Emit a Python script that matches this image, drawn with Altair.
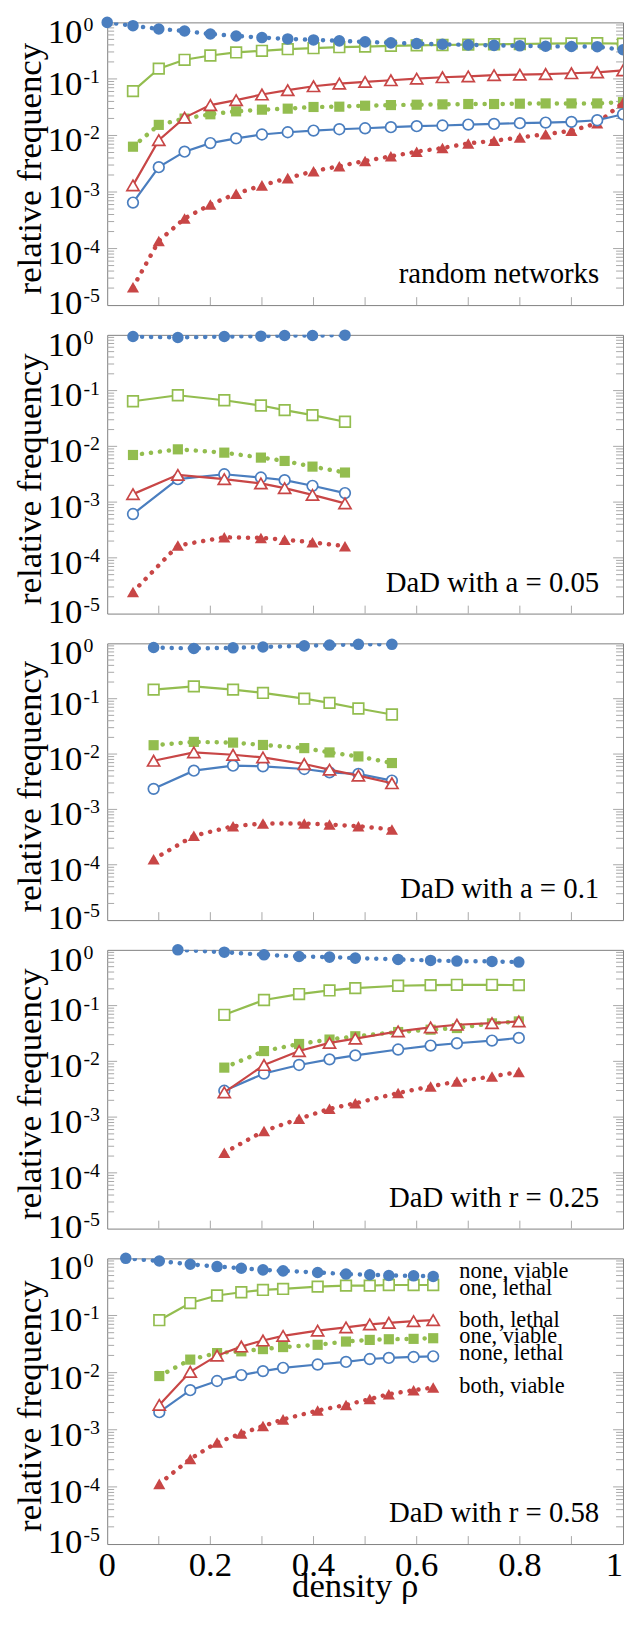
import altair as alt
import pandas as pd

# ------------------------------------------------------------------ data
SERIES_NAMES = ["none, viable", "one, lethal", "both, lethal",
                "one, viable", "none, lethal", "both, viable"]

# panel 1: random networks
P1_RHO_NV = [0.00, 0.05, 0.10, 0.15, 0.20, 0.25, 0.30, 0.35, 0.40, 0.45, 0.50,
             0.55, 0.60, 0.65, 0.70, 0.75, 0.80, 0.85, 0.90, 0.95, 1.00]
P1_RHO = [0.05, 0.10, 0.15, 0.20, 0.25, 0.30, 0.35, 0.40, 0.45, 0.50,
          0.55, 0.60, 0.65, 0.70, 0.75, 0.80, 0.85, 0.90, 0.95, 1.00]
P1_NONE_VIABLE = [1.0, 0.875, 0.764, 0.705, 0.624, 0.575, 0.538, 0.510, 0.490, 0.471, 0.452,
                  0.434, 0.422, 0.411, 0.400, 0.392, 0.385, 0.378, 0.375, 0.372, 0.328]
P1_ONE_LETHAL = [0.0608, 0.152, 0.218, 0.260, 0.294, 0.314, 0.336, 0.350, 0.364, 0.374,
                 0.384, 0.392, 0.398, 0.404, 0.410, 0.415, 0.420, 0.425, 0.428, 0.420]
P1_BOTH_LETHAL = [0.00131, 0.00828, 0.0207, 0.0345, 0.0422, 0.0531, 0.0632, 0.0743, 0.0828, 0.0886,
                  0.0948, 0.101, 0.107, 0.111, 0.117, 0.119, 0.122, 0.126, 0.131, 0.142]
P1_ONE_VIABLE = [0.00633, 0.0154, 0.0199, 0.0237, 0.0267, 0.0286, 0.0298, 0.0319, 0.0323, 0.0336,
                 0.0345, 0.0350, 0.0355, 0.0360, 0.0360, 0.0365, 0.0369, 0.0369, 0.0369, 0.0390]
P1_NONE_LETHAL = [0.00065, 0.00275, 0.00517, 0.00733, 0.00886, 0.0104, 0.0114, 0.0122, 0.0129, 0.0134,
                  0.0140, 0.0146, 0.0150, 0.0156, 0.0160, 0.0165, 0.0169, 0.0174, 0.0186, 0.0237]
P1_BOTH_VIABLE = [2.07e-5, 1.36e-4, 3.41e-4, 6.0e-4, 9.35e-4, 1.31e-3, 1.76e-3, 2.34e-3, 2.86e-3, 3.55e-3,
                  4.28e-3, 5.17e-3, 6.0e-3, 7.24e-3, 8.06e-3, 9.22e-3, 0.01055, 0.0121, 0.0165, 0.0379]

# panel 2: DaD with a = 0.05
P2_RHO = [0.050, 0.137, 0.227, 0.298, 0.344, 0.398, 0.461]
P2_NONE_VIABLE = [0.934, 0.896, 0.934, 0.947, 0.973, 0.973, 0.986]
P2_ONE_LETHAL = [0.0645, 0.0825, 0.0672, 0.0540, 0.0446, 0.0363, 0.0276]
P2_BOTH_LETHAL = [0.00139, 0.00308, 0.00258, 0.00216, 0.00178, 0.00135, 0.000947]
P2_ONE_VIABLE = [0.0070, 0.00884, 0.00771, 0.00628, 0.00547, 0.00433, 0.00339]
P2_NONE_LETHAL = [0.000611, 0.00258, 0.00316, 0.00276, 0.00247, 0.00196, 0.00145]
P2_BOTH_VIABLE = [2.44e-5, 1.66e-4, 2.34e-4, 2.28e-4, 2.12e-4, 1.90e-4, 1.62e-4]

# panel 3: DaD with a = 0.1
P3_RHO = [0.090, 0.168, 0.244, 0.302, 0.382, 0.431, 0.487, 0.552]
P3_NONE_VIABLE = [0.84, 0.81, 0.83, 0.86, 0.90, 0.93, 0.96, 0.96]
P3_ONE_LETHAL = [0.146, 0.167, 0.146, 0.127, 0.100, 0.084, 0.0666, 0.0519]
P3_BOTH_LETHAL = [0.00757, 0.0107, 0.0097, 0.0087, 0.0066, 0.00523, 0.00408, 0.00297]
P3_ONE_VIABLE = [0.01445, 0.0166, 0.0161, 0.0146, 0.0128, 0.0107, 0.00906, 0.00688]
P3_NONE_LETHAL = [0.00235, 0.00501, 0.00616, 0.0060, 0.00537, 0.00468, 0.00437, 0.00332]
P3_BOTH_VIABLE = [1.26e-4, 3.34e-4, 4.97e-4, 5.55e-4, 5.55e-4, 5.32e-4, 4.97e-4, 4.34e-4]

# panel 4: DaD with r = 0.25
P4_RHO_NV = [0.137, 0.227, 0.304, 0.372, 0.431, 0.481, 0.564, 0.627, 0.678, 0.746, 0.798]
P4_RHO = [0.227, 0.304, 0.372, 0.431, 0.481, 0.564, 0.627, 0.678, 0.746, 0.798]
P4_NONE_VIABLE = [1.0, 0.909, 0.815, 0.761, 0.741, 0.711, 0.673, 0.647, 0.629, 0.621, 0.604]
P4_ONE_LETHAL = [0.0683, 0.126, 0.161, 0.187, 0.206, 0.227, 0.233, 0.236, 0.236, 0.233]
P4_BOTH_LETHAL = [0.00278, 0.00861, 0.0153, 0.0214, 0.0256, 0.0345, 0.0406, 0.0454, 0.0486, 0.0520]
P4_ONE_VIABLE = [0.00772, 0.0153, 0.0205, 0.0246, 0.0282, 0.0336, 0.0370, 0.0396, 0.0480, 0.0520]
P4_NONE_LETHAL = [0.00297, 0.00604, 0.00861, 0.01086, 0.0128, 0.0163, 0.0192, 0.0211, 0.0236, 0.0263]
P4_BOTH_VIABLE = [2.30e-4, 5.64e-4, 9.34e-4, 1.41e-3, 1.77e-3, 2.70e-3, 3.55e-3, 4.35e-3, 5.34e-3, 6.47e-3]

# panel 5: DaD with r = 0.58
P5_RHO_NV = [0.036, 0.101, 0.161, 0.213, 0.260, 0.302, 0.341, 0.408, 0.463, 0.509, 0.546, 0.594, 0.632]
P5_RHO = [0.101, 0.161, 0.213, 0.260, 0.302, 0.341, 0.408, 0.463, 0.509, 0.546, 0.594, 0.632]
P5_NONE_VIABLE = [1.0, 0.899, 0.788, 0.718, 0.672, 0.629, 0.604, 0.566, 0.530, 0.516, 0.502, 0.495, 0.483]
P5_ONE_LETHAL = [0.0828, 0.165, 0.224, 0.255, 0.280, 0.292, 0.320, 0.333, 0.333, 0.342, 0.342, 0.342]
P5_BOTH_LETHAL = [0.00272, 0.01035, 0.0198, 0.0287, 0.0365, 0.0439, 0.0542, 0.0619, 0.0697, 0.0745, 0.0796, 0.0828]
P5_ONE_VIABLE = [0.00871, 0.0169, 0.0220, 0.0236, 0.0258, 0.0280, 0.0307, 0.0350, 0.0374, 0.0384, 0.0390, 0.0400]
P5_NONE_LETHAL = [0.00203, 0.00493, 0.00714, 0.00906, 0.01063, 0.01214, 0.01386, 0.0154, 0.0173, 0.0181, 0.0188, 0.0193]
P5_BOTH_VIABLE = [1.13e-4, 3.09e-4, 6.0e-4, 8.57e-4, 1.16e-3, 1.52e-3, 2.17e-3, 2.72e-3, 3.44e-3, 4.20e-3, 4.93e-3, 5.48e-3]

PANEL_LABELS = ["random networks", "DaD with a = 0.05", "DaD with a = 0.1",
                "DaD with r = 0.25", "DaD with r = 0.58"]

Y_TICK_VALUES = [1, 0.1, 0.01, 0.001, 0.0001, 0.00001]
Y_TICK_EXPONENTS = ["0", "-1", "-2", "-3", "-4", "-5"]
X_TICK_VALUES = [0.1, 0.2, 0.3, 0.4, 0.5, 0.6, 0.7, 0.8, 0.9]
X_LABEL_VALUES = [0, 0.2, 0.4, 0.6, 0.8, 1]
X_LABEL_TEXT = ["0", "0.2", "0.4", "0.6", "0.8", "1"]

PANELS = [
    {"none, viable": (P1_RHO_NV, P1_NONE_VIABLE), "one, lethal": (P1_RHO, P1_ONE_LETHAL),
     "both, lethal": (P1_RHO, P1_BOTH_LETHAL), "one, viable": (P1_RHO, P1_ONE_VIABLE),
     "none, lethal": (P1_RHO, P1_NONE_LETHAL), "both, viable": (P1_RHO, P1_BOTH_VIABLE)},
    {"none, viable": (P2_RHO, P2_NONE_VIABLE), "one, lethal": (P2_RHO, P2_ONE_LETHAL),
     "both, lethal": (P2_RHO, P2_BOTH_LETHAL), "one, viable": (P2_RHO, P2_ONE_VIABLE),
     "none, lethal": (P2_RHO, P2_NONE_LETHAL), "both, viable": (P2_RHO, P2_BOTH_VIABLE)},
    {"none, viable": (P3_RHO, P3_NONE_VIABLE), "one, lethal": (P3_RHO, P3_ONE_LETHAL),
     "both, lethal": (P3_RHO, P3_BOTH_LETHAL), "one, viable": (P3_RHO, P3_ONE_VIABLE),
     "none, lethal": (P3_RHO, P3_NONE_LETHAL), "both, viable": (P3_RHO, P3_BOTH_VIABLE)},
    {"none, viable": (P4_RHO_NV, P4_NONE_VIABLE), "one, lethal": (P4_RHO, P4_ONE_LETHAL),
     "both, lethal": (P4_RHO, P4_BOTH_LETHAL), "one, viable": (P4_RHO, P4_ONE_VIABLE),
     "none, lethal": (P4_RHO, P4_NONE_LETHAL), "both, viable": (P4_RHO, P4_BOTH_VIABLE)},
    {"none, viable": (P5_RHO_NV, P5_NONE_VIABLE), "one, lethal": (P5_RHO, P5_ONE_LETHAL),
     "both, lethal": (P5_RHO, P5_BOTH_LETHAL), "one, viable": (P5_RHO, P5_ONE_VIABLE),
     "none, lethal": (P5_RHO, P5_NONE_LETHAL), "both, viable": (P5_RHO, P5_BOTH_VIABLE)},
]

# ------------------------------------------------------------------ style
FONT = "Liberation Serif"
BLUE, GREEN, RED = "#4a7ebf", "#93bd4f", "#c84646"
STYLE = {
    "none, viable": dict(color=BLUE, shape="circle", filled=True, size=135),
    "one, lethal": dict(color=GREEN, shape="square", filled=False, size=115),
    "both, lethal": dict(color=RED, shape="triangle-up", filled=False, size=150),
    "one, viable": dict(color=GREEN, shape="square", filled=True, size=105),
    "none, lethal": dict(color=BLUE, shape="circle", filled=False, size=115),
    "both, viable": dict(color=RED, shape="triangle-up", filled=True, size=150),
}
DRAW_ORDER = ["one, viable", "both, viable", "none, lethal",
              "both, lethal", "one, lethal", "none, viable"]

W = 520
HEIGHTS = [285, 281, 279, 281, 288]
SPACING = 30
TICK_COLOR = "#a8a8a8"
LEGEND_BASELINES = [20, 36.7, 68.7, 85, 102.7, 136]

xs = alt.Scale(domain=[0, 1], nice=False, zero=False)
ys = alt.Scale(type="log", domain=[1e-5, 1], nice=False)

MINOR_Y = [k * 10.0 ** e for e in range(-5, 0) for k in range(2, 10)]
MAJOR_Y = Y_TICK_VALUES[1:-1]


def X(field="rho"):
    return alt.X(f"{field}:Q", scale=xs, axis=None)


def Y(field="f"):
    return alt.Y(f"{field}:Q", scale=ys, axis=None)


def panel(pdata, label, H, bottom):
    layers = []
    one = pd.DataFrame({"a": [0]})

    # inward tick marks on left / right / bottom
    for vals, ln in ((MINOR_Y, 7), (MAJOR_Y, 10)):
        td = pd.DataFrame({"t": vals})
        layers.append(alt.Chart(td).mark_rule(color=TICK_COLOR, strokeWidth=1).encode(
            y=Y("t"), x=alt.value(0), x2=alt.value(ln)))
        layers.append(alt.Chart(td).mark_rule(color=TICK_COLOR, strokeWidth=1).encode(
            y=Y("t"), x=alt.value(W), x2=alt.value(W - ln)))
    xt = pd.DataFrame({"t": X_TICK_VALUES})
    layers.append(alt.Chart(xt).mark_rule(color=TICK_COLOR, strokeWidth=1).encode(
        x=X("t"), y=alt.value(H), y2=alt.value(H - 8)))

    # series
    for s in DRAW_ORDER:
        st = STYLE[s]
        r, v = pdata[s]
        d = pd.DataFrame({"rho": r, "f": v})
        base = alt.Chart(d).encode(x=X(), y=Y())
        if st["filled"]:
            layers.append(base.mark_line(color=st["color"], strokeWidth=4.5, clip=True,
                                         strokeDash=[0.1, 9], strokeCap="round"))
            pt = dict(shape=st["shape"], filled=True, color=st["color"],
                      size=st["size"], opacity=1)
        else:
            layers.append(base.mark_line(color=st["color"], strokeWidth=2.2, clip=True))
            pt = dict(shape=st["shape"], filled=True, fill="white", stroke=st["color"],
                      strokeWidth=1.7, size=st["size"], opacity=1)
        inner = d[d["rho"] < 1]
        edge = d[d["rho"] >= 1]
        layers.append(alt.Chart(inner).mark_point(**pt).encode(x=X(), y=Y()))
        if len(edge):
            layers.append(alt.Chart(edge).mark_point(clip=True, **pt).encode(x=X(), y=Y()))

    # y tick labels  10^k
    yl = pd.DataFrame({"t": Y_TICK_VALUES, "e": Y_TICK_EXPONENTS})
    groups = [(yl.iloc[:1], 10), (yl.iloc[1:-1], 5), (yl.iloc[-1:], -2)]
    for g, dy in groups:
        layers.append(alt.Chart(g).mark_text(font=FONT, fontSize=35, align="right",
                                             baseline="middle", dy=dy, color="black").encode(
            y=Y("t"), x=alt.value(-25), text=alt.value("10")))
        layers.append(alt.Chart(g).mark_text(font=FONT, fontSize=20, align="left",
                                             baseline="middle", dy=dy - 7, color="black").encode(
            y=Y("t"), x=alt.value(-24), text="e:N"))

    # y title
    layers.append(alt.Chart(one).mark_text(font=FONT, fontSize=35, angle=270, align="center",
                                           baseline="alphabetic", color="black",
                                           text="relative frequency").encode(
        x=alt.value(-67), y=alt.value(H / 2 + 5)))

    # panel annotation
    layers.append(alt.Chart(one).mark_text(font=FONT, fontSize=29, align="right",
                                           baseline="alphabetic", color="black",
                                           text=label).encode(
        x=alt.value(W - 24), y=alt.value(H - 22)))

    if bottom:
        xl = pd.DataFrame({"t": X_LABEL_VALUES, "lab": X_LABEL_TEXT})
        layers.append(alt.Chart(xl.iloc[:-1]).mark_text(font=FONT, fontSize=35, align="center",
                                                        baseline="middle", color="black").encode(
            x=X("t"), y=alt.value(H + 21), text="lab:N"))
        layers.append(alt.Chart(xl.iloc[-1:]).mark_text(font=FONT, fontSize=35, align="right",
                                                        baseline="middle", color="black").encode(
            x=X("t"), y=alt.value(H + 21), text="lab:N"))
        layers.append(alt.Chart(one).mark_text(font=FONT, fontSize=35, align="center",
                                               baseline="alphabetic", color="black",
                                               text="density ρ").encode(
            x=alt.value(250), y=alt.value(H + 53)))
        for name, b in zip(SERIES_NAMES, LEGEND_BASELINES):
            layers.append(alt.Chart(one).mark_text(font=FONT, fontSize=22.5, align="left",
                                                   baseline="alphabetic", color="black",
                                                   text=name).encode(
                x=alt.value(355), y=alt.value(b)))

    return alt.layer(*layers).properties(width=W, height=H)


panels = [panel(PANELS[i], PANEL_LABELS[i], HEIGHTS[i], i == len(PANELS) - 1)
          for i in range(len(PANELS))]

chart = alt.vconcat(*panels, spacing=SPACING, bounds="flush").properties(
    padding={"left": 4, "top": 0, "right": 0, "bottom": 0},
    background="white",
).configure_view(stroke="#808080", strokeWidth=1)

chart.save("out.html", embed_options={"renderer": "svg", "actions": False})
